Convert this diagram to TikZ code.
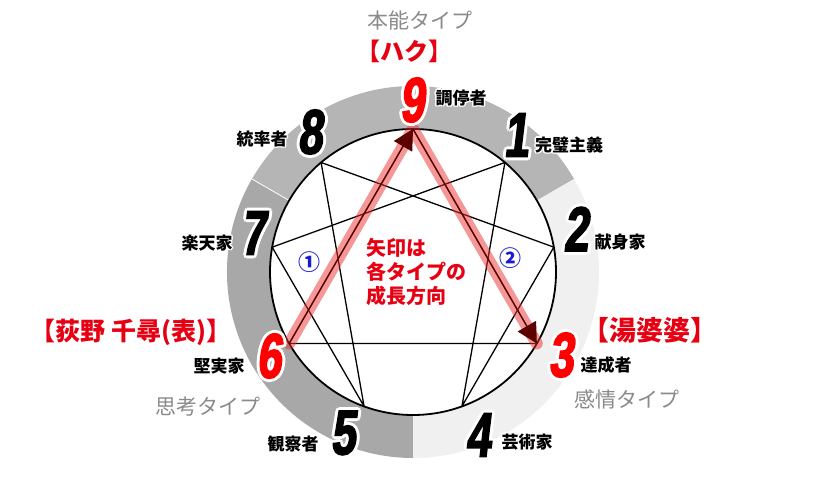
\documentclass[tikz,border=0pt]{standalone}
\usepackage{fontspec}
\usetikzlibrary{calc,arrows.meta}
\newfontfamily\jpfont{Noto Sans CJK JP}
\newfontfamily\numfont{Liberation Sans}[FakeStretch=0.7,FakeSlant=0.12,FakeBold=2.5]
\definecolor{ringtop}{HTML}{B5B5B5}
\definecolor{ringleft}{HTML}{A8A8A8}
\definecolor{ringright}{HTML}{F0F0F0}
\definecolor{typegray}{HTML}{8A8A8A}
\definecolor{namered}{HTML}{E60012}
\definecolor{tipred}{HTML}{5C0000}
\definecolor{bandred}{HTML}{EB3030}
\definecolor{numblue}{HTML}{1A1AD0}
\newcommand{\halonode}[5]{%
  \foreach \ang in {0,45,...,315}
    \node[#1, text=white] at ($(#3)+(\ang:#5)$) {#4};
  \node[#1] (#2) at (#3) {#4};
}
\tikzset{
  numtxt/.style={font=\numfont\bfseries\fontsize{63}{63}\selectfont, inner sep=0pt},
  desc/.style={font=\jpfont\bfseries\fontsize{17}{17}\selectfont, inner sep=0pt},
  typelabel/.style={font=\jpfont\fontsize{21}{21}\selectfont, text=typegray, inner sep=0pt},
  charname/.style={font=\jpfont\bfseries\fontsize{#1}{#1}\selectfont, text=namered, inner sep=0pt},
  circnum/.style={font=\jpfont\bfseries\fontsize{22}{22}\selectfont, text=numblue, inner sep=0pt},
  band/.style={bandred, opacity=0.5, line width=12pt, line cap=round, line join=round},
  growth/.style={tipred, line width=1.2pt, -{Triangle[length=20pt,width=21pt]}}
}
\begin{document}
\begin{tikzpicture}[x=1pt,y=-1pt]
  \useasboundingbox (0,0) rectangle (824,479);
  \begin{scope}[shift={(413,272)}, y=1pt]
    \fill[ringtop] (30:186) arc[start angle=30,end angle=150,radius=186] -- (150:143) arc[start angle=150,end angle=30,radius=143] -- cycle;
    \fill[ringleft] (150:186) arc[start angle=150,end angle=270,radius=186] -- (270:143) arc[start angle=270,end angle=150,radius=143] -- cycle;
    \fill[ringright] (270:186) arc[start angle=270,end angle=390,radius=186] -- (30:143) arc[start angle=30,end angle=-90,radius=143] -- cycle;
    \draw[white, line width=0.8pt] (150:143) -- (150:186);
    \fill[white] (0,0) circle (143);
    \draw[line width=1.8pt] (0,0) circle (143);
    \foreach \n/\a in {9/90,1/50,2/10,3/-30,4/-70,5/-110,6/-150,7/170,8/130}
      \coordinate (p\n) at (\a:143);
  \end{scope}

  \draw[line width=1.3pt, line join=round] (p9) -- (p3) -- (p6) -- cycle;
  \draw[line width=1.3pt, line join=round] (p1) -- (p4) -- (p2) -- (p8) -- (p5) -- (p7) -- cycle;
  \draw[band] (p6) -- (p9) -- (p3);
  \draw[growth] (p6) -- (p9);
  \draw[growth] (p9) -- (p3);

  \node[circnum] (c1) at (309,262) {①};
  \node[circnum] (c2) at (510,258) {②};
  \node[font=\jpfont\bfseries\fontsize{20}{24}\selectfont, text=namered, align=left, anchor=west, inner sep=0pt] (note) at (366,272) {矢印は\\各タイプの\\成長方向};

  \halonode{numtxt, text=red}{n9}{412,100}{9}{3}
  \halonode{numtxt}{n8}{310,132}{8}{3}
  \halonode{numtxt}{n1}{516,135}{1}{3}
  \halonode{numtxt}{n2}{576,229}{2}{3}
  \halonode{numtxt, text=red}{n3}{561,355}{3}{3}
  \halonode{numtxt}{n4}{478,435}{4}{3}
  \halonode{numtxt}{n5}{343,433}{5}{3}
  \halonode{numtxt, text=red}{n6}{269,356}{6}{3}
  \halonode{numtxt}{n7}{253,233}{7}{3}

  \halonode{desc}{d9}{461,98}{調停者}{1.5}
  \halonode{desc}{d8}{262,139}{統率者}{1.5}
  \halonode{desc}{d1}{569,145}{完璧主義}{1.5}
  \halonode{desc}{d2}{620,242}{献身家}{1.5}
  \halonode{desc}{d3}{606,365}{達成者}{1.5}
  \halonode{desc}{d4}{527,442}{芸術家}{1.5}
  \halonode{desc}{d5}{293,444}{観察者}{1.5}
  \halonode{desc}{d6}{219,366}{堅実家}{1.5}
  \halonode{desc}{d7}{207,243}{楽天家}{1.5}

  \node[typelabel] (instinct) at (420,21) {本能タイプ};
  \node[typelabel] (thinking) at (208,407) {思考タイプ};
  \node[typelabel] (feeling) at (627,399) {感情タイプ};

  \node[charname=24] (haku) at (404,51) {【ハク】};
  \node[charname=25] (chihiro) at (131,332) {【荻野 千尋(表)】};
  \node[charname=27] (yubaba) at (650,330) {【湯婆婆】};
\end{tikzpicture}
\end{document}
